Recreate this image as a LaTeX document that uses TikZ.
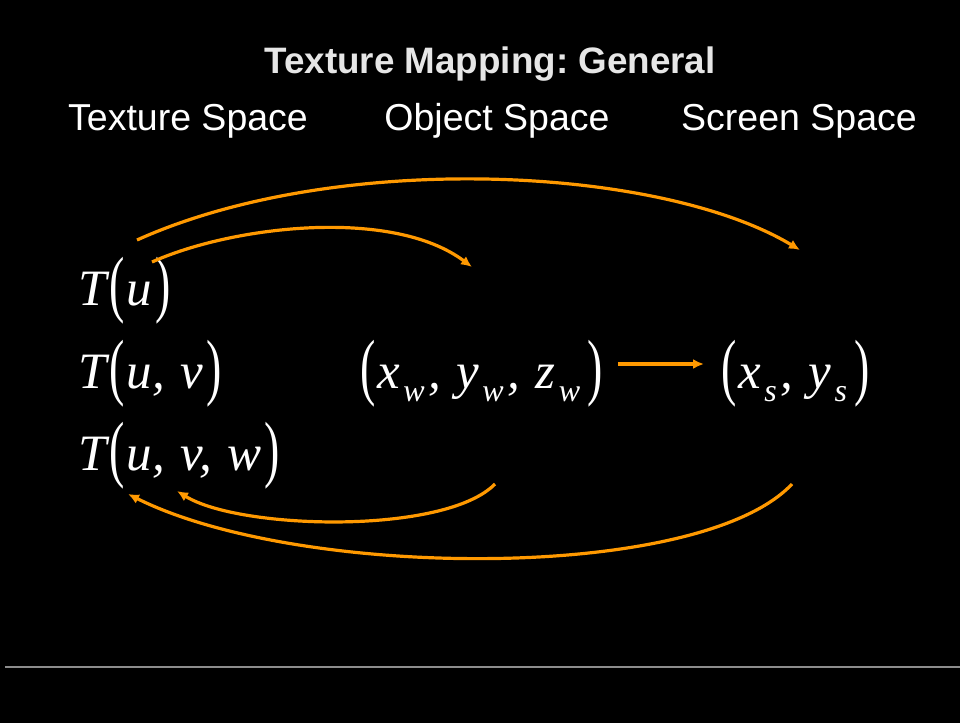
\documentclass[tikz,border=0pt]{standalone}
\usepackage{fontspec}
\setmainfont{Liberation Serif}
\newfontfamily\headfont{Liberation Sans}
\usetikzlibrary{arrows.meta}
\definecolor{mapora}{HTML}{FF9900}
\definecolor{titlegray}{HTML}{E6E6E6}
\frenchspacing
\newcommand{\lp}{\kern0.06em\raisebox{-0.07em}{\scalebox{0.9}[1.45]{\upshape(}}\kern0.04em}
\newcommand{\rp}{\kern0.06em\raisebox{-0.07em}{\scalebox{0.9}[1.45]{\upshape)}}}
\newcommand{\sub}[1]{\kern0.06em\raisebox{-0.26em}{\fontsize{32}{32}\selectfont #1}\kern0.08em}

\begin{document}
\begin{tikzpicture}[x=1pt, y=-1pt,
    heading/.style={text=white, font=\headfont\fontsize{37.5}{40}\selectfont, anchor=base, inner sep=0pt},
    formula/.style={text=white, font=\fontsize{51}{60}\selectfont\itshape, anchor=base west, inner sep=0pt},
    maparrow/.style={draw=mapora, line width=3.2pt, -{Latex[length=11pt,width=10pt]}}]
    \fill[black] (0,0) rectangle (960,723);
    \useasboundingbox (0,0) rectangle (960,723);

    \node[heading, text=titlegray, font=\headfont\bfseries\fontsize{36.8}{40}\selectfont] (title) at (490, 73) {Texture Mapping: General};
    \node[heading] (texsp) at (188, 130) {Texture Space};
    \node[heading] (objsp) at (497, 130) {Object Space};
    \node[heading] (scrsp) at (799, 130) {Screen Space};

    \node[formula] (tu) at (78, 305) {T\lp u\rp};
    \node[formula] (tuv) at (78, 388) {T\lp u,\kern0.3em v\rp};
    \node[formula] (tuvw) at (78, 470) {T\lp u,\kern0.3em v,\kern0.3em w\rp};
    \node[formula] (obj) at (357, 388) {\lp x\sub{w},\kern0.3em y\sub{w},\kern0.3em z\sub{w}\rp};
    \node[formula] (scr) at (718, 388) {\lp x\sub{s},\kern0.3em y\sub{s}\rp};

    \coordinate (topa) at (137, 240);
    \coordinate (topb) at (152, 262);
    \coordinate (objtop) at (472, 267);
    \coordinate (scrtop) at (800, 250);
    \coordinate (objbot) at (495, 484);
    \coordinate (scrbot) at (792, 484);
    \coordinate (tinner) at (177, 491);
    \coordinate (touter) at (128, 494);

    \draw[maparrow] ([xshift=15pt, yshift=24pt]obj.base east) -- ([xshift=-14pt, yshift=24pt]scr.base west);
    \draw[maparrow] (topa) .. controls (337, 150) and (660, 166) .. (scrtop);
    \draw[maparrow] (topb) .. controls (232, 226) and (392, 207) .. (objtop);
    \draw[maparrow] (objbot) .. controls (445, 535) and (240, 530) .. (tinner);
    \draw[maparrow] (scrbot) .. controls (700, 582) and (300, 580) .. (touter);

    \draw[draw=gray!90, line width=1.5pt] (5, 667) -- (960, 667);
\end{tikzpicture}
\end{document}
